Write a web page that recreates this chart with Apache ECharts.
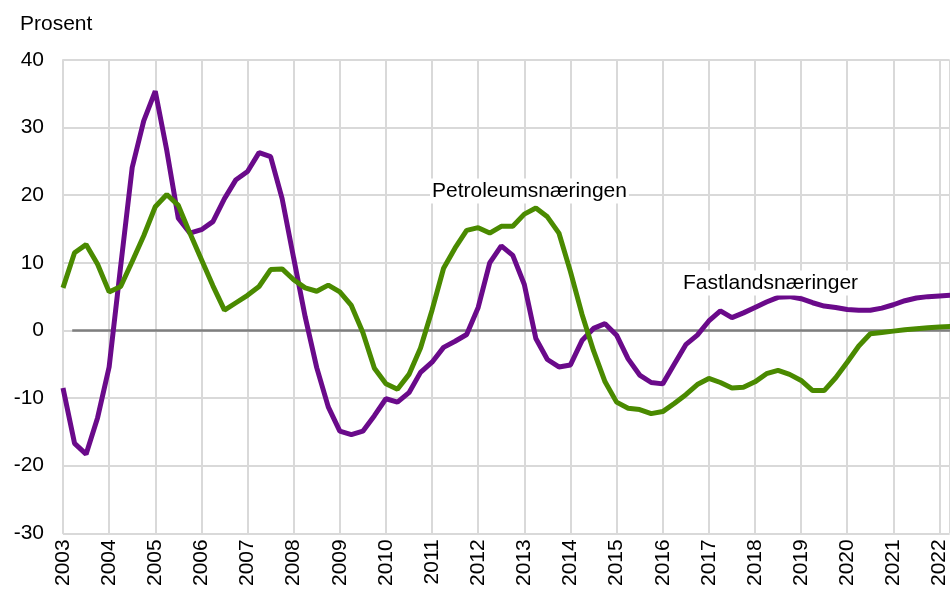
<!DOCTYPE html>
<html>
<head>
<meta charset="utf-8">
<script src="https://cdn.jsdelivr.net/npm/echarts@6/dist/echarts.min.js"></script>
<style>
  html, body { margin: 0; padding: 0; background: #fff; }
  #chart { width: 950px; height: 589px; }
</style>
</head>
<body>
<div id="chart"></div>
<script>
// kvartalsvis, første punkt 2003 K1
const startYear = 2003;
const yearTicks = [2003, 2004, 2005, 2006, 2007, 2008, 2009, 2010, 2011, 2012,
  2013, 2014, 2015, 2016, 2017, 2018, 2019, 2020, 2021, 2022];

// lilla linje
const fastland = [
  -8.5, -16.7, -18.3, -12.9, -5.4, 9.5, 24.1, 31.0,
  35.4, 26.6, 16.6, 14.4, 14.9, 16.1, 19.5, 22.3,
  23.5, 26.3, 25.7, 19.5, 10.7, 2.0, -5.5, -11.3,
  -14.9, -15.4, -14.9, -12.6, -10.1, -10.6, -9.2, -6.2,
  -4.7, -2.5, -1.6, -0.6, 3.4, 10.0, 12.5, 11.1,
  6.8, -1.2, -4.3, -5.4, -5.1, -1.5, 0.3, 1.0,
  -0.7, -4.2, -6.6, -7.7, -7.9, -5.0, -2.1, -0.7,
  1.4, 2.9, 1.9, 2.6, 3.4, 4.2, 4.9, 5.0,
  4.7, 4.1, 3.6, 3.4, 3.1, 3.0, 3.0, 3.3,
  3.8, 4.4, 4.8, 5.0, 5.1, 5.2
];

// grønn linje
const petroleum = [
  6.3, 11.5, 12.7, 9.8, 5.7, 6.5, 10.2, 14.0,
  18.3, 20.1, 18.5, 14.4, 10.5, 6.6, 3.0, 4.1,
  5.2, 6.5, 9.0, 9.1, 7.5, 6.3, 5.8, 6.7,
  5.7, 3.7, -0.3, -5.6, -7.9, -8.7, -6.5, -2.6,
  3.0, 9.2, 12.2, 14.8, 15.2, 14.4, 15.4, 15.4,
  17.2, 18.1, 16.8, 14.4, 8.7, 2.4, -3.0, -7.6,
  -10.6, -11.5, -11.7, -12.3, -12.0, -10.8, -9.5, -8.0,
  -7.1, -7.7, -8.5, -8.4, -7.6, -6.4, -5.9, -6.5,
  -7.4, -8.9, -8.9, -7.0, -4.7, -2.3, -0.5, -0.3,
  -0.1, 0.1, 0.25, 0.4, 0.5, 0.6
];

// nullinje (starter litt inn fra aksen)
const zeroLine = [[2003.2, 0], [2022.3, 0]];

const xMax = 2022.22;
const font = 'Liberation Sans, Arial, sans-serif';

function toPoints(values) {
  return values.map((v, i) => [startYear + i / 4, v]);
}

let myChart = echarts.init(document.getElementById('chart'));
myChart.setOption({
  animation: false,
  backgroundColor: '#fff',
  grid: { left: 63, right: -1, top: 60, bottom: 55, containLabel: false },
  xAxis: {
    type: 'value',
    min: startYear,
    max: xMax,
    interval: 1,
    axisLine: { show: true, lineStyle: { color: '#d9d9d9', width: 2 } },
    axisTick: { show: false },
    splitLine: { show: true, lineStyle: { color: '#d9d9d9', width: 2 } },
    axisLabel: {
      rotate: 90,
      margin: 6,
      color: '#000',
      fontSize: 21,
      fontFamily: font,
      showMaxLabel: false,
      formatter: v => (yearTicks.indexOf(v) >= 0 ? String(v) : '')
    }
  },
  yAxis: {
    type: 'value',
    min: -30,
    max: 40,
    interval: 10,
    axisLine: { show: true, lineStyle: { color: '#d9d9d9', width: 2 } },
    axisTick: { show: false },
    splitLine: { show: true, lineStyle: { color: '#d9d9d9', width: 2 } },
    axisLabel: { color: '#000', fontSize: 21, fontFamily: font, margin: 19 }
  },
  graphic: [
    { type: 'text', x: 20, y: 24, style: { text: 'Prosent', font: '21px ' + font, fill: '#000', verticalAlign: 'middle' } },
    { type: 'text', x: 430, y: 191, z: 100, style: { text: 'Petroleumsnæringen', font: '21px ' + font, fill: '#000', verticalAlign: 'middle', backgroundColor: '#fff', padding: [2, 2] } },
    { type: 'text', x: 681, y: 283, z: 100, style: { text: 'Fastlandsnæringer', font: '21px ' + font, fill: '#000', verticalAlign: 'middle', backgroundColor: '#fff', padding: [2, 2] } }
  ],
  series: [
    {
      name: 'null',
      type: 'line',
      data: zeroLine,
      symbol: 'none',
      silent: true,
      lineStyle: { color: '#7f7f7f', width: 2.5 }
    },
    {
      name: 'Fastlandsnæringer',
      type: 'line',
      data: toPoints(fastland),
      symbol: 'none',
      lineStyle: { color: '#6a0a8a', width: 5 }
    },
    {
      name: 'Petroleumsnæringen',
      type: 'line',
      data: toPoints(petroleum),
      symbol: 'none',
      lineStyle: { color: '#4a8a00', width: 5 }
    }
  ]
});
</script>
</body>
</html>
